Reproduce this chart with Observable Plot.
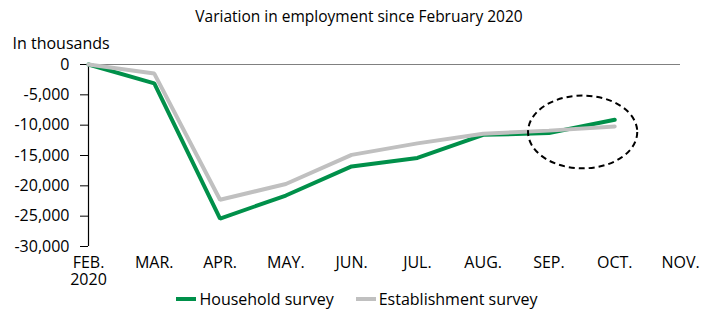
<!DOCTYPE html>
<html><head><meta charset="utf-8">
<script src="https://cdn.jsdelivr.net/npm/d3@7"></script>
<script src="https://cdn.jsdelivr.net/npm/@observablehq/plot@0.6"></script>
<style>
body{margin:0;background:#fff;font-family:"Open Sans",sans-serif;color:#000;}
#title{height:30px;line-height:32px;text-align:center;font-size:15.5px;padding-left:6px;}
#chart svg{display:block;overflow:visible;}
#legend{display:flex;justify-content:center;align-items:center;font-size:16px;height:21px;padding-left:2px;}
.item{display:flex;align-items:center;}
.sw{width:20px;height:4px;margin-right:3px;}
</style></head><body>
<div id="title">Variation in employment since February 2020</div>
<div id="chart"></div>
<div id="legend"></div>
<script>
const months = ["FEB.\n2020","MAR.","APR.","MAY.","JUN.","JUL.","AUG.","SEP.","OCT.","NOV."];
const household = [0,-3100,-25400,-21600,-16800,-15400,-11600,-11300,-9100];
const establishment = [0,-1500,-22300,-19700,-14900,-13000,-11400,-10900,-10200];
const yTicks = [0,-5000,-10000,-15000,-20000,-25000,-30000];
const seriesNames = ["Household survey","Establishment survey"];
const seriesColors = ["#00904a","#c0c0c0"];
const highlight = [{x1:6.69,x2:8.35,y1:-17200,y2:-5200}];

const rows = [];
household.forEach((v,i)=>rows.push({i, v, s:seriesNames[0]}));
establishment.forEach((v,i)=>rows.push({i, v, s:seriesNames[1]}));

const ellipseMark = (index, scales) => {
  const g = d3.create("svg:g");
  for (const h of highlight) {
    const xa = scales.x(h.x1), xb = scales.x(h.x2);
    const ya = scales.y(h.y1), yb = scales.y(h.y2);
    g.append("ellipse")
      .attr("cx",(xa+xb)/2).attr("cy",(ya+yb)/2)
      .attr("rx",Math.abs(xb-xa)/2).attr("ry",Math.abs(ya-yb)/2)
      .attr("fill","none").attr("stroke","#000")
      .attr("stroke-width",2).attr("stroke-dasharray","6,4");
  }
  return g.node();
};

const chart = Plot.plot({
  width:712, height:258,
  marginTop:34, marginBottom:42, marginLeft:88, marginRight:32,
  style:{fontFamily:"Open Sans, sans-serif", fontSize:"16px", color:"#000", background:"#fff", overflow:"visible"},
  x:{type:"linear", domain:[0,9]},
  y:{domain:[-30000,0]},
  marks:[
    Plot.ruleY([0],{stroke:"#808080", strokeWidth:1.2}),
    Plot.axisY({ticks:yTicks, tickSize:8, tickPadding:11, tickFormat:d=>d3.format(",")(d).replace("−","-"), label:null, stroke:"#000"}),
    Plot.axisX({ticks:d3.range(months.length), tickSize:0, tickPadding:9, tickFormat:i=>months[i], label:null, lineHeight:1.08}),
    Plot.ruleX([0],{stroke:"#000", strokeWidth:1.2}),
    Plot.text(["In thousands"],{frameAnchor:"top-left", dx:-76, dy:-27, textAnchor:"start", fontSize:16}),
    Plot.line(rows.filter(d=>d.s===seriesNames[0]),{x:"i", y:"v", stroke:seriesColors[0], strokeWidth:4, strokeLinejoin:"miter"}),
    Plot.line(rows.filter(d=>d.s===seriesNames[1]),{x:"i", y:"v", stroke:seriesColors[1], strokeWidth:4, strokeLinejoin:"miter"}),
    ellipseMark
  ]
});
document.getElementById("chart").appendChild(chart);

const leg = document.getElementById("legend");
seriesNames.forEach((n,k)=>{
  const it = document.createElement("div"); it.className="item";
  if (k>0) it.style.marginLeft="22px";
  const sw = document.createElement("div"); sw.className="sw"; sw.style.background=seriesColors[k];
  const t = document.createElement("span"); t.textContent=n;
  it.appendChild(sw); it.appendChild(t); leg.appendChild(it);
});
</script>
</body></html>
